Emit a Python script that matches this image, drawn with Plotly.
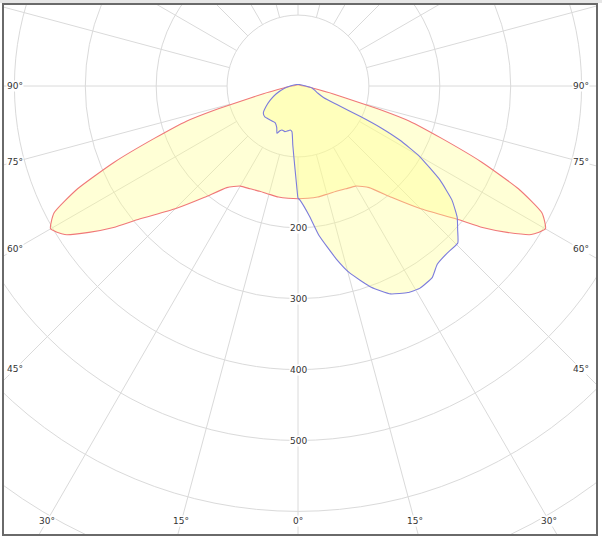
import numpy as np
import plotly.graph_objects as go

# ---- data (luminous intensity, cd/klm) ----
# C0-C180 plane (red), angles in degrees, 0 = straight down, positive = right
red_angles = [-180, -135, -90, -85, -80, -77.5, -75, -74, -72.5, -70, -67.5, -65, -62.5, -60,
              -57.5, -55, -52.5, -50, -45, -40, -35, -30, -25, -20, -15, -10, -5,
              0, 5, 10, 15, 20, 25, 30, 35, 40, 45, 50, 52.5, 55, 57.5, 60, 62.5, 65,
              67.5, 70, 72.5, 74, 75, 77.5, 80, 85, 90, 135, 180]
red_cd = [2, 2, 8, 15, 30, 50, 88, 120, 165, 215, 280, 343, 388, 403,
          390, 360, 328, 292, 245, 205, 175, 163, 160, 158, 158, 159, 159,
          159, 159, 159, 158, 158, 160, 163, 175, 205, 245, 292, 328, 360, 390, 403, 388, 343,
          280, 215, 165, 120, 88, 50, 30, 15, 8, 2, 2]

# C90-C270 plane (blue)
blue_angles = [-180, -135, -90, -80, -70, -63, -57, -52, -47, -40, -32, -27, -24, -22, -20,
               -16, -13, -10, -7.5, -5, -2, -0.5, 0, 1, 5, 8, 12.5, 15.5, 20, 24, 28, 31,
               35, 38, 41.5, 45.5, 48, 50.5, 53.5, 56.5, 60, 62, 63.3, 64, 64.5, 65.5, 70,
               75, 82, 90, 135, 180]
blue_cd = [2, 3, 11, 20, 33, 44, 54, 62, 64, 62, 61, 66, 73, 68, 66,
           67, 65, 63, 65, 84, 118, 147, 158, 161, 184, 213, 250, 274, 302, 321, 330, 333,
           330, 319, 316, 316, 303, 291, 270, 240, 197, 163, 130, 98, 60, 40, 30,
           25, 20, 11, 3, 2]

grid_radii = [100, 200, 300, 400, 500, 600, 700, 800]
radius_labels = [200, 300, 400, 500]
spoke_angles = list(range(0, 360, 15))
side_angle_labels = [90, 75, 60, 45]
bottom_angle_labels = [-30, -15, 0, 15, 30]

# ---- geometry of the picture ----
W, H = 602, 538
K = 0.709            # pixels per cd
CX, CY = 298, 86     # pole position in pixels
FX0, FY0, FX1, FY1 = 3, 4, 597, 535   # frame


def to_xy(angles, values):
    t = np.radians(np.asarray(angles, dtype=float))
    r = np.asarray(values, dtype=float)
    return r * np.sin(t), r * np.cos(t)


fig = go.Figure()

FILL = "rgba(255,255,140,0.36)"
rx, ry = to_xy(red_angles, red_cd)
fig.add_trace(go.Scatter(x=rx, y=ry, mode="lines", fill="toself", fillcolor=FILL,
                         line=dict(color="#f07878", width=1.1, shape="spline", smoothing=0.5),
                         hoverinfo="skip", showlegend=False))
bx, by = to_xy(blue_angles, blue_cd)
fig.add_trace(go.Scatter(x=bx, y=by, mode="lines", fill="toself", fillcolor=FILL,
                         line=dict(color="#7c7cdc", width=1.1, shape="spline", smoothing=0.4),
                         hoverinfo="skip", showlegend=False))

GRID = "#dadada"
shapes = []
for R in grid_radii:
    shapes.append(dict(type="circle", xref="x", yref="y", x0=-R, x1=R, y0=-R, y1=R,
                       line=dict(color=GRID, width=1), layer="below"))
for a in spoke_angles:
    (x0, x1), (y0, y1) = to_xy([a, a], [100, 1200])
    shapes.append(dict(type="line", xref="x", yref="y", x0=x0, x1=x1, y0=y0, y1=y1,
                       line=dict(color=GRID, width=1), layer="below"))
# frame
shapes.append(dict(type="rect", xref="paper", yref="paper", x0=0, x1=1, y0=0, y1=1,
                   line=dict(color="#6a6a6a", width=2), layer="above"))
shapes.append(dict(type="rect", xref="paper", yref="paper", x0=-0.01, x1=1.01,
                   y0=1 + 1.0 / (FY1 - FY0), y1=1 + 4.0 / (FY1 - FY0),
                   fillcolor="#e6e6e6", line=dict(width=0), layer="above"))

FONT = dict(family="DejaVu Sans, Verdana, sans-serif", size=9, color="#333333")
ann = []
for v in radius_labels:
    ann.append(dict(x=0, y=v, xref="x", yref="y", text=str(v), showarrow=False,
                    font=FONT, bgcolor="white", borderpad=0))
side_x = (CX - 15) / K
for a in side_angle_labels:
    t = np.radians(a)
    yv = side_x * np.cos(t) / np.sin(t)
    for sgn in (-1, 1):
        ann.append(dict(x=sgn * side_x, y=yv, xref="x", yref="y", text=f"{a}°",
                        showarrow=False, font=FONT, bgcolor="white", borderpad=0))
bot_y = (521 - CY) / K
for a in bottom_angle_labels:
    xv = bot_y * np.tan(np.radians(a))
    ann.append(dict(x=xv, y=bot_y, xref="x", yref="y", text=f"{abs(a)}°",
                    showarrow=False, font=FONT, bgcolor="white", borderpad=0))

fig.update_layout(
    width=W, height=H,
    margin=dict(l=FX0, r=W - FX1, t=FY0, b=H - FY1),
    paper_bgcolor="white", plot_bgcolor="white",
    xaxis=dict(range=[(FX0 - CX) / K, (FX1 - CX) / K], visible=False, fixedrange=True),
    yaxis=dict(range=[(FY1 - CY) / K, (FY0 - CY) / K], visible=False, fixedrange=True),
    shapes=shapes, annotations=ann, showlegend=False,
)

fig.write_html("out.html", config={"displayModeBar": False},
               post_script="document.body.style.margin='0';document.body.style.overflow='hidden';")
